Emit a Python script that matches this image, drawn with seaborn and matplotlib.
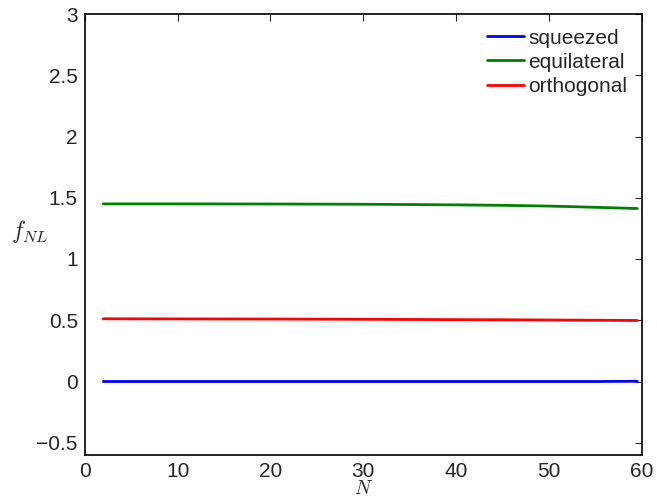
import matplotlib
matplotlib.use("Agg")
import matplotlib.pyplot as plt
import seaborn as sns
import pandas as pd

# valores
N = [2, 10, 20, 30, 40, 45, 50, 55, 59.5]
squeezed = [0.0, 0.0, 0.0, 0.0, 0.0, 0.0, 0.0, 0.0, 0.002]
equilateral = [1.450, 1.450, 1.449, 1.447, 1.442, 1.438, 1.432, 1.422, 1.412]
orthogonal = [0.512, 0.511, 0.510, 0.508, 0.505, 0.504, 0.502, 0.500, 0.498]
series = ["squeezed", "equilateral", "orthogonal"]
colores = ["#0000ff", "#008000", "#ff0000"]

df = pd.DataFrame({
    "N": N * 3,
    "fNL": squeezed + equilateral + orthogonal,
    "serie": [s for s in series for _ in N],
})

sns.set_style("white")
plt.rcParams["font.family"] = ["Liberation Sans", "DejaVu Sans"]
plt.rcParams["mathtext.fontset"] = "cm"

fig = plt.figure(figsize=(6.57, 5), dpi=100)
ax = fig.add_axes([0.129, 0.09, 0.848, 0.882])

sns.lineplot(data=df, x="N", y="fNL", hue="serie", hue_order=series,
             palette=colores, linewidth=2, ax=ax, estimator=None)

ax.set_xlim(0, 60)
ax.set_ylim(-0.6, 3)
ax.set_xticks(range(0, 61, 10))
ax.set_yticks([-0.5, 0, 0.5, 1, 1.5, 2, 2.5, 3])
ax.set_yticklabels(["\u22120.5", "0", "0.5", "1", "1.5", "2", "2.5", "3"])
ax.tick_params(direction="in", length=5, width=0.8, labelsize=15, top=True, right=True,
               pad=5)
for s in ax.spines.values():
    s.set_linewidth(1.2)
    s.set_color("black")

ax.set_xlabel("$N$", fontsize=14, labelpad=-1)
ax.set_ylabel("$f_{NL}$", fontsize=17, rotation=0, ha="center", va="center")
ax.yaxis.set_label_coords(-0.099, 0.506)

leg = ax.legend(loc="upper right", frameon=False, fontsize=15, handlelength=1.8,
                handletextpad=0.2, labelspacing=0.25, borderaxespad=0.3)

fig.savefig("out.png", dpi=100)
